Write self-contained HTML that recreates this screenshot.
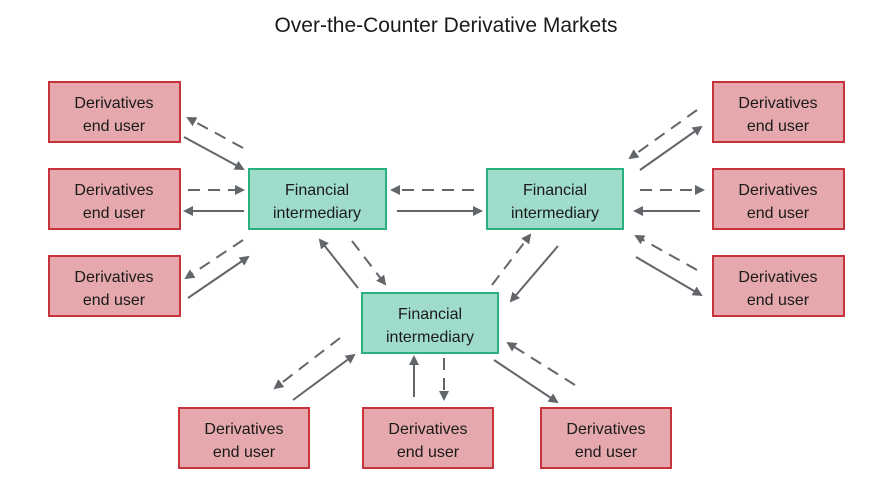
<!DOCTYPE html>
<html><head><style>
body{margin:0;background:#fff;width:874px;height:482px;overflow:hidden}
svg{display:block}
text{font-family:"Liberation Sans",sans-serif;fill:#1a1a1a}
</style></head><body>
<svg width="874" height="482" viewBox="0 0 874 482">
<defs><marker id="a" markerWidth="10" markerHeight="10" refX="8" refY="5" orient="auto" markerUnits="userSpaceOnUse"><path d="M0,0 L10,5 L0,10 z" fill="#62666b"/></marker></defs>
<text x="446" y="32" font-size="21" text-anchor="middle">Over-the-Counter Derivative Markets</text>
<g fill="#e5a8ac" stroke="#c8323c" stroke-width="2">
<rect x="49" y="82" width="131" height="60"/><rect x="49" y="169" width="131" height="60"/><rect x="49" y="256" width="131" height="60"/>
<rect x="713" y="82" width="131" height="60"/><rect x="713" y="169" width="131" height="60"/><rect x="713" y="256" width="131" height="60"/>
<rect x="179" y="408" width="130" height="60"/><rect x="363" y="408" width="130" height="60"/><rect x="541" y="408" width="130" height="60"/>
</g>
<g fill="#a0dccb" stroke="#2ab07f" stroke-width="2">
<rect x="249" y="169" width="137" height="60"/><rect x="487" y="169" width="136" height="60"/><rect x="362" y="293" width="136" height="60"/>
</g>
<g font-size="16" text-anchor="middle">
<text x="114" y="108">Derivatives</text><text x="114" y="131">end user</text>
<text x="114" y="195">Derivatives</text><text x="114" y="218">end user</text>
<text x="114" y="282">Derivatives</text><text x="114" y="305">end user</text>
<text x="778" y="108">Derivatives</text><text x="778" y="131">end user</text>
<text x="778" y="195">Derivatives</text><text x="778" y="218">end user</text>
<text x="778" y="282">Derivatives</text><text x="778" y="305">end user</text>
<text x="244" y="434">Derivatives</text><text x="244" y="457">end user</text>
<text x="428" y="434">Derivatives</text><text x="428" y="457">end user</text>
<text x="606" y="434">Derivatives</text><text x="606" y="457">end user</text>
<text x="317" y="195">Financial</text><text x="317" y="218">intermediary</text>
<text x="555" y="195">Financial</text><text x="555" y="218">intermediary</text>
<text x="430" y="319">Financial</text><text x="430" y="342">intermediary</text>
</g>
<g stroke="#62666b" stroke-width="2" fill="none" marker-end="url(#a)">
<g stroke-dasharray="12,8">
<line x1="243" y1="148" x2="188" y2="118"/><line x1="188" y1="190" x2="243" y2="190"/><line x1="243" y1="240" x2="186" y2="278"/>
<line x1="474" y1="190" x2="392" y2="190"/>
<line x1="697" y1="110" x2="630" y2="158"/><line x1="640" y1="190" x2="703" y2="190"/><line x1="697" y1="270" x2="636" y2="236"/>
<line x1="352" y1="241" x2="385" y2="284"/><line x1="492" y1="285" x2="530" y2="235"/>
<line x1="340" y1="338" x2="275" y2="388"/><line x1="444" y1="358" x2="444" y2="399"/><line x1="575" y1="385" x2="508" y2="343"/>
</g>
<line x1="184" y1="137" x2="243" y2="169"/><line x1="244" y1="211" x2="185" y2="211"/><line x1="188" y1="298" x2="248" y2="257"/>
<line x1="397" y1="211" x2="481" y2="211"/>
<line x1="640" y1="170" x2="701" y2="127"/><line x1="700" y1="211" x2="635" y2="211"/><line x1="636" y1="257" x2="701" y2="295"/>
<line x1="358" y1="288" x2="320" y2="240"/><line x1="558" y1="246" x2="511" y2="301"/>
<line x1="293" y1="400" x2="354" y2="355"/><line x1="414" y1="397" x2="414" y2="357"/><line x1="494" y1="360" x2="557" y2="402"/>
</g>
</svg>
</body></html>
